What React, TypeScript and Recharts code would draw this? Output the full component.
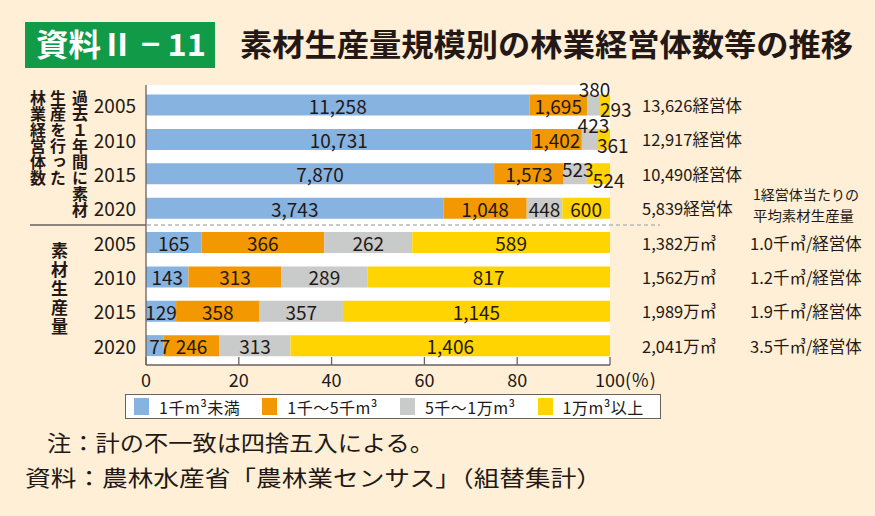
import React from 'react';
import { BarChart, Bar, XAxis, YAxis, CartesianGrid, LabelList, Legend } from 'recharts';

// ---------- data ----------
const years = ['2005', '2010', '2015', '2020'];
const sizeClasses = ['1千m³未満', '1千～5千m³', '5千～1万m³', '1万m³以上'];

const entityBlue = [11258, 10731, 7870, 3743];
const entityOrange = [1695, 1402, 1573, 1048];
const entityGray = [380, 423, 523, 448];
const entityYellow = [293, 361, 524, 600];
const entityTotals = [13626, 12917, 10490, 5839];

const volBlue = [165, 143, 129, 77];
const volOrange = [366, 313, 358, 246];
const volGray = [262, 289, 357, 313];
const volYellow = [589, 817, 1145, 1406];
const volTotals = [1382, 1562, 1989, 2041];
const perEntity = ['1.0', '1.2', '1.9', '3.5'];

const xTicks = [0, 20, 40, 60, 80, 100];

// ---------- styles ----------
const FONT = "'Noto Sans CJK JP', 'Noto Sans', sans-serif";
const INK = '#231815';
const AXIS = '#6b6160';
const GREEN = '#119a48';
const BG = '#feefd6';
const COLORS = ['#86b3e0', '#f39800', '#c9caca', '#ffd400'];

const fmt = (n: number) => n.toLocaleString('en-US');

const groups = [
  { parts: [entityBlue, entityOrange, entityGray, entityYellow], totals: entityTotals },
  { parts: [volBlue, volOrange, volGray, volYellow], totals: volTotals },
];

const rows: any[] = [];
groups.forEach((g, gi) => {
  years.forEach((yr, i) => {
    const vals = g.parts.map((p) => p[i]);
    const sum = vals.reduce((a, b) => a + b, 0);
    const row: any = { pos: String(gi * 4 + i), year: yr, group: gi, total: g.totals[i], avg: gi === 1 ? perEntity[i] : null };
    vals.forEach((v, s) => {
      row['p' + s] = (v / sum) * 100;
      row['v' + s] = v;
    });
    rows.push(row);
  });
});

// layout
const M = { top: 85, right: 265, bottom: 121, left: 86 };
const Y_PAD = 2.5;
const PLOT_H = 516 - M.top - M.bottom - 30;
const BAND = (PLOT_H - 2 * Y_PAD) / rows.length;
const DIVIDER_Y = M.top + Y_PAD + 4 * BAND;

// labels placed off-centre / outside their tiny segments (series-row)
const outside: Record<string, { anchor: 'middle' | 'start'; dx: number; dy: number }> = {
  '2-0': { anchor: 'middle', dx: 1, dy: -17 },
  '2-1': { anchor: 'middle', dx: 4, dy: -14.5 },
  '2-2': { anchor: 'middle', dx: 2.5, dy: -5.5 },
  '3-0': { anchor: 'start', dx: 0, dy: 3 },
  '3-1': { anchor: 'start', dx: 0, dy: 5.5 },
  '3-2': { anchor: 'start', dx: 6, dy: 6 },
  '0-7': { anchor: 'middle', dx: 5, dy: 0 },
};

const makeSegLabel = (s: number) => (props: any) => {
  const { x, y, width, height, index, value } = props;
  const o = outside[`${s}-${index}`];
  const cx = o ? (o.anchor === 'start' ? x + o.dx : x + width / 2 + o.dx) : x + width / 2;
  const cy = y + height / 2 + (o ? o.dy : 0);
  return (
    <text x={cx} y={cy} textAnchor={o ? o.anchor : 'middle'} dominantBaseline="central" fill={INK} fontSize={19} fontFamily={FONT}>
      {fmt(Number(value))}
    </text>
  );
};

const RightLabel = (props: any) => {
  const { x, y, width, height, index } = props;
  const row = rows[index];
  const cy = y + height / 2;
  const rx = x + width;
  if (row.group === 0) {
    return (
      <text x={rx + 32} y={cy} dominantBaseline="central" fill={INK} fontSize={16.5} fontFamily={FONT}>
        {fmt(row.total)}経営体
      </text>
    );
  }
  return (
    <g>
      <text x={rx + 32} y={cy} dominantBaseline="central" fill={INK} fontSize={16.5} fontFamily={FONT}>
        {fmt(row.total)}万㎥
      </text>
      <text x={rx + 140} y={cy} dominantBaseline="central" fill={INK} fontSize={16.5} fontFamily={FONT}>
        {row.avg}千㎥/経営体
      </text>
    </g>
  );
};

const XTick = (props: any) => {
  const { x, y, payload } = props;
  const v = payload.value;
  return (
    <g>
      <text x={x} y={y + 12} textAnchor="middle" fill={INK} fontSize={18} fontFamily={FONT}>
        {v}
      </text>
      {v === 100 ? (
        <text x={x + 15} y={y + 12} textAnchor="start" fill={INK} fontSize={18} fontFamily={FONT} letterSpacing={1}>
          (%)
        </text>
      ) : null}
    </g>
  );
};

const YTick = (props: any) => {
  const { x, y, payload } = props;
  const row = rows[Number(payload.value)];
  return (
    <text x={x} y={y} textAnchor="end" dominantBaseline="central" fill={INK} fontSize={19} fontFamily={FONT}>
      {row ? row.year : ''}
    </text>
  );
};

const LegendBox = (props: any) => {
  const payload = props.payload || [];
  const ordered = sizeClasses.map((name) => payload.find((p: any) => p.value === name)).filter(Boolean);
  return (
    <div
      style={{
        border: `1.5px solid ${AXIS}`,
        background: '#fff',
        height: 25,
        display: 'flex',
        alignItems: 'center',
        paddingLeft: 8,
        boxSizing: 'border-box',
        fontFamily: FONT,
        fontSize: 16,
        letterSpacing: 0.5,
        color: INK,
        whiteSpace: 'nowrap',
      }}
    >
      {ordered.map((p: any, i: number) => (
        <div key={i} style={{ display: 'flex', alignItems: 'center', marginRight: 22 }}>
          <span style={{ display: 'inline-block', width: 15, height: 17, background: p.color, marginRight: 10 }} />
          <span>{p.value}</span>
        </div>
      ))}
    </div>
  );
};

const vStyle = (left: number, top: number, size: number, spacing: number): React.CSSProperties => ({
  position: 'absolute',
  left,
  top,
  fontSize: size,
  lineHeight: `${size}px`,
  letterSpacing: spacing,
  writingMode: 'vertical-rl',
  fontFamily: FONT,
  fontWeight: 700,
  color: INK,
  whiteSpace: 'nowrap',
});

export default function App() {
  return (
    <div style={{ position: 'absolute', left: 0, top: 0, width: 875, height: 516, background: BG, overflow: 'hidden' }}>
      <BarChart width={875} height={516} data={rows} layout="vertical" margin={M} barSize={21}>
        <CartesianGrid fill="#ffffff" horizontal={false} vertical={false} stroke="none" />
        <XAxis
          type="number"
          domain={[0, 100]}
          ticks={xTicks}
          interval={0}
          height={30}
          axisLine={{ stroke: AXIS, strokeWidth: 1.3 }}
          tickLine={{ stroke: AXIS, strokeWidth: 1.3 }}
          tickSize={-8}
          tickMargin={18}
          tick={<XTick />}
        />
        <YAxis
          type="category"
          dataKey="pos"
          interval={0}
          width={60}
          padding={{ top: Y_PAD, bottom: Y_PAD }}
          axisLine={{ stroke: AXIS, strokeWidth: 1.3 }}
          tickLine={false}
          tickMargin={4}
          tick={<YTick />}
        />
        {[0, 1, 2, 3].map((s) => (
          <Bar key={s} dataKey={'p' + s} name={sizeClasses[s]} stackId="a" fill={COLORS[s]} isAnimationActive={false}>
            <LabelList dataKey={'v' + s} content={makeSegLabel(s)} />
            {s === 3 ? <LabelList dataKey="total" content={RightLabel} /> : null}
          </Bar>
        ))}
        <Legend
          layout="horizontal"
          verticalAlign="middle"
          align="center"
          content={<LegendBox />}
          wrapperStyle={{ left: 125, top: 394, width: 536 }}
        />
      </BarChart>

      <div style={vStyle(72, 90, 16, 0)}>過去１年間に素材</div>
      <div style={vStyle(50, 90, 16, 0)}>生産を行った</div>
      <div style={vStyle(30, 90, 16, 0)}>林業経営体数</div>
      <div style={vStyle(51, 242, 17, 2)}>素材生産量</div>

      <svg width={875} height={516} style={{ position: 'absolute', left: 0, top: 0, pointerEvents: 'none' }}>
        <line x1={30} y1={DIVIDER_Y} x2={M.left + 60} y2={DIVIDER_Y} stroke={AXIS} strokeWidth={1.5} />
        <line x1={M.left + 61} y1={DIVIDER_Y} x2={660} y2={DIVIDER_Y} stroke="#b8b8b8" strokeWidth={1.3} strokeDasharray="4 3" />
        <rect x={25} y={22} width={190} height={46} fill={GREEN} />
        <text x={36} y={56} fill="#ffffff" fontSize={31} fontWeight={700} fontFamily={FONT} textLength={170} lengthAdjust="spacingAndGlyphs">
          資料Ⅱ − 11
        </text>
        <text x={240} y={56} fill={INK} fontSize={31} fontWeight={700} fontFamily={FONT} textLength={613} lengthAdjust="spacingAndGlyphs">
          素材生産量規模別の林業経営体数等の推移
        </text>
        <text x={753} y={200} fill={INK} fontSize={14} fontFamily={FONT} textLength={106} lengthAdjust="spacingAndGlyphs">1経営体当たりの</text>
        <text x={753} y={221} fill={INK} fontSize={14} fontFamily={FONT} textLength={101} lengthAdjust="spacingAndGlyphs">平均素材生産量</text>
        <text x={47} y={451} fill={INK} fontSize={22} fontFamily={FONT} textLength={387} lengthAdjust="spacingAndGlyphs">
          注：計の不一致は四捨五入による。
        </text>
        <text x={25} y={486} fill={INK} fontSize={22} fontFamily={FONT} textLength={577} lengthAdjust="spacingAndGlyphs">
          資料：農林水産省「農林業センサス」（組替集計）
        </text>
      </svg>
    </div>
  );
}
